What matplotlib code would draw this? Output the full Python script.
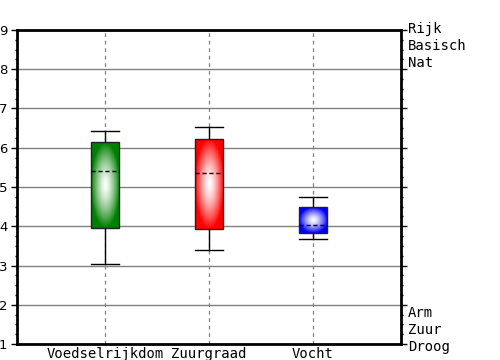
import numpy as np
import matplotlib.pyplot as plt
from matplotlib.colors import to_rgb
from matplotlib.ticker import MultipleLocator

categories = ["Voedselrijkdom", "Zuurgraad", "Vocht"]
whisker_low = [3.03, 3.39, 3.67]
q1 = [3.95, 3.92, 3.82]
median = [5.40, 5.35, 4.03]
q3 = [6.14, 6.22, 4.48]
whisker_high = [6.42, 6.52, 4.75]
box_colors = ["#008000", "#ff0000", "#0000ff"]
top_labels = ["Rijk", "Basisch", "Nat"]
bottom_labels = ["Arm", "Zuur", "Droog"]

MONO = "DejaVu Sans Mono"


def radial_gradient(color, n=120):
    # white centre fading out to the full colour at the box edges
    yy, xx = np.mgrid[-1:1:n * 1j, -1:1:n * 1j]
    r = np.clip(np.sqrt(xx ** 2 + yy ** 2), 0, 1)
    t = (r ** 1.4)[..., None]
    c = np.array(to_rgb(color))
    return np.ones(3) * (1 - t) + c * t


fig = plt.figure(figsize=(5, 3.6), dpi=100)
ax = fig.add_axes([0.034, 0.0444, 0.768, 0.8723])

positions = np.arange(1, len(categories) + 1)
width = 0.27
stats = [
    dict(whislo=lo, q1=a, med=m, q3=b, whishi=hi, fliers=[])
    for lo, a, m, b, hi in zip(whisker_low, q1, median, q3, whisker_high)
]

# dashed guide lines through every category
ax.vlines(positions, 1, 9, colors="#808080", linestyles=(0, (3, 3)),
          linewidth=0.9, zorder=1)

bp = ax.bxp(stats, positions=positions, widths=width, capwidths=width,
            patch_artist=True, showfliers=False,
            boxprops=dict(edgecolor="#222222", linewidth=1.0),
            medianprops=dict(color="black", linestyle=(0, (3, 2)), linewidth=1.0),
            whiskerprops=dict(color="black", linewidth=1.0),
            capprops=dict(color="black", linewidth=1.0))

for pos, patch, color, lo, hi in zip(positions, bp["boxes"], box_colors, q1, q3):
    img = ax.imshow(radial_gradient(color), origin="lower", aspect="auto",
                    extent=[pos - width / 2, pos + width / 2, lo, hi],
                    interpolation="bilinear", zorder=2.5)
    img.set_clip_path(patch)
    patch.set_facecolor("none")
    patch.set_zorder(3)
for line in bp["medians"]:
    line.set_zorder(4)

ax.set_xlim(0.154, 3.846)
ax.set_ylim(1, 9)
ax.set_yticks(range(1, 10))
ax.yaxis.set_minor_locator(MultipleLocator(0.25))
ax.set_xticks(positions)
ax.set_xticklabels(categories, family=MONO, fontsize=10)
ax.tick_params(axis="x", length=0, pad=2)
ax.tick_params(axis="y", which="major", direction="out", length=4, width=1,
               right=True, labelsize=9.5, pad=3)
ax.tick_params(axis="y", which="minor", direction="out", length=1.5, width=1,
               right=True)

ax.yaxis.grid(True, color="#808080", linewidth=1.0)
ax.set_axisbelow(True)
for sp in ax.spines.values():
    sp.set_linewidth(2)

for i, lab in enumerate(top_labels):
    ax.annotate(lab, xy=(1, 9), xycoords=("axes fraction", "data"),
                xytext=(5, 0.7 - i * 12.3), textcoords="offset points",
                ha="left", va="center", family=MONO, fontsize=10)
for i, lab in enumerate(bottom_labels):
    ax.annotate(lab, xy=(1, 1), xycoords=("axes fraction", "data"),
                xytext=(5, 22.6 - i * 12.3), textcoords="offset points",
                ha="left", va="center", family=MONO, fontsize=10)

fig.savefig("out.png", dpi=100)
